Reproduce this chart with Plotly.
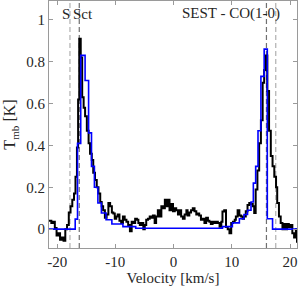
import plotly.graph_objects as go

# Observed spectrum (black)
obs_v = [-21.4, -21.0, -20.7, -20.4, -20.1, -19.8, -19.5, -19.2, -18.9, -18.6, -18.3, -18.0,
         -17.7, -17.4, -17.1, -16.85, -16.6, -16.4, -16.2, -15.95, -15.7, -15.45, -15.2, -14.9,
         -14.6, -14.35, -14.05, -13.8, -13.5, -13.2, -12.9, -12.6, -12.35, -12.1, -11.8, -11.5,
         -11.2, -10.9, -10.6, -10.35, -10.1, -9.85, -9.6, -9.3, -9.0, -8.7, -8.4, -8.1, -7.8,
         -7.5, -7.2, -6.9, -6.6, -6.3, -6.05, -5.8, -5.5, -5.2, -4.95, -4.7, -4.4, -4.1, -3.8,
         -3.55, -3.25, -3.0, -2.7, -2.4, -2.1, -1.8, -1.5, -1.25, -0.97, -0.7, -0.4, -0.1, 0.2,
         0.45, 0.75, 1.0, 1.3, 1.6, 1.9, 2.2, 2.4, 2.7, 3.0, 3.3, 3.6, 3.9, 4.15, 4.4, 4.7, 5.0,
         5.3, 5.6, 5.9, 6.15, 6.4, 6.7, 7.0, 7.3, 7.6, 7.9, 8.2, 8.4, 8.7, 9.0, 9.3, 9.6, 9.9,
         10.2, 10.5, 10.7, 11.0, 11.3, 11.6, 11.85, 12.1, 12.4, 12.7, 13.0, 13.3, 13.6, 13.85,
         14.1, 14.4, 14.7, 15.0, 15.3, 15.56, 15.85, 16.1, 16.4, 16.7, 17.0, 17.3, 17.6, 17.8,
         18.1, 18.4, 18.7, 19.0, 19.3, 19.5, 19.8, 20.1, 20.4, 20.7, 21.0, 21.2]
obs_T = [0.04, 0.03, 0.035, 0.005, -0.03, -0.02, -0.05, -0.04, -0.055, 0.0, 0.02, 0.08,
         0.11, 0.14, 0.17, 0.25, 0.39, 0.62, 0.91, 0.82, 0.63, 0.58, 0.54, 0.47,
         0.41, 0.36, 0.33, 0.27, 0.235, 0.2, 0.17, 0.13, 0.11, 0.09, 0.055, 0.07,
         0.125, 0.11, 0.08, 0.075, 0.05, 0.06, 0.07, 0.04, 0.03, 0.06, 0.045, 0.035, 0.02,
         -0.01, 0.035, 0.03, 0.05, 0.045, 0.03, 0.02, 0.03, 0.0, 0.02, 0.045, 0.05, 0.06, 0.055,
         0.065, 0.03, 0.06, 0.09, 0.06, 0.11, 0.1, 0.14, 0.11, 0.14, 0.09, 0.12, 0.085, 0.1,
         0.09, 0.07, 0.09, 0.06, 0.05, 0.07, 0.09, 0.065, 0.08, 0.09, 0.1, 0.085, 0.07, 0.075, 0.065, 0.045, 0.05,
         0.03, 0.055, 0.04, 0.035, 0.025, 0.035, 0.03, 0.035, 0.03, 0.012, 0.035, 0.084, 0.09, 0.01, 0.0, -0.02, 0.03,
         0.035, 0.045, 0.06, 0.09, 0.065, 0.06, 0.05, 0.06, 0.085, 0.115, 0.125, 0.12, 0.11, 0.077,
         0.19, 0.28, 0.41, 0.52, 0.70, 0.76, 0.83, 0.66, 0.47, 0.35, 0.30, 0.25, 0.2, 0.125,
         0.06, 0.03, 0.0, 0.025, 0.0, 0.025, 0.01, 0.02, -0.02, -0.04, 0.0, -0.065]

# Model spectrum (blue), step starts
mod_v = [-21.4, -16.9, -16.5, -15.95, -15.2, -14.6, -14.1, -13.6, -13.0, -12.4, -11.6, -10.6,
         -8.7, -6.5, 8.4, 10.1, 11.3, 12.1, 12.7, 13.3, 13.7, 14.1, 14.5, 15.0, 15.56, 16.1,
         17.0, 21.4]
mod_T = [0.0, 0.048, 0.41, 0.83, 0.71, 0.46, 0.30, 0.20, 0.125, 0.077, 0.045, 0.025,
         0.012, 0.004, 0.012, 0.03, 0.05, 0.07, 0.09, 0.13, 0.22, 0.30, 0.47, 0.73, 0.86, 0.05,
         0.0, 0.0]

# Marker velocities (dashed lines)
line_v = [-17.8, -16.2, 15.95, 17.55]
line_col = ["#b0b0b0", "#707070", "#707070", "#b0b0b0"]

x_ticks = [-20, -10, 0, 10, 20]
y_ticks = [0, 0.2, 0.4, 0.6, 0.8, 1]
y_tick_text = ["0", "0.2", "0.4", "0.6", "0.8", "1"]

FONT = "Liberation Serif, Times New Roman, serif"

fig = go.Figure()
for v, c in zip(line_v, line_col):
    fig.add_vline(x=v, line=dict(color=c, width=1.2, dash="5px,3px"), layer="below")

fig.add_trace(go.Scatter(x=obs_v, y=obs_T, mode="lines", line_shape="hv",
                         line=dict(color="black", width=2), showlegend=False, hoverinfo="skip"))
fig.add_trace(go.Scatter(x=mod_v, y=mod_T, mode="lines", line_shape="hv",
                         line=dict(color="#0000ff", width=1.6), showlegend=False, hoverinfo="skip"))

fig.add_annotation(x=-18.45, y=1.03, text="S", showarrow=False, font=dict(size=15, family=FONT, color="#262626"))
fig.add_annotation(x=-15.5, y=1.03, text="Sct", showarrow=False, font=dict(size=15, family=FONT, color="#262626"))
fig.add_annotation(x=18.7, y=1.03, text="SEST - CO(1-0)", showarrow=False, xanchor="right",
                   font=dict(size=15, family=FONT, color="#262626"))

axis_common = dict(showline=True, linecolor="#9a9a9a", linewidth=1, mirror="ticks",
                   ticks="inside", ticklen=4, tickcolor="#9a9a9a", showgrid=False, zeroline=False,
                   automargin=False,
                   tickfont=dict(size=15, family=FONT, color="#262626"))
fig.update_xaxes(range=[-21.4, 21.2], tickvals=x_ticks, ticktext=["-20", "-10", "0", "10", "20"],
                 title=dict(text="Velocity [km/s]", font=dict(size=15, family=FONT, color="#262626"), standoff=2),
                 **axis_common)
fig.update_yaxes(range=[-0.09, 1.09], tickvals=y_ticks, ticktext=y_tick_text,
                 title=dict(text="T<sub>mb</sub> [K]", font=dict(size=16, family=FONT, color="#262626"), standoff=6),
                 **axis_common)

fig.update_layout(width=300, height=289, margin=dict(l=49, r=3, t=1, b=41, autoexpand=False),
                  plot_bgcolor="white", paper_bgcolor="white", hovermode=False)
fig.write_html("out.html", config={"displayModeBar": False, "staticPlot": True},
               post_script="document.body.style.margin='0';document.body.style.overflow='hidden';")
